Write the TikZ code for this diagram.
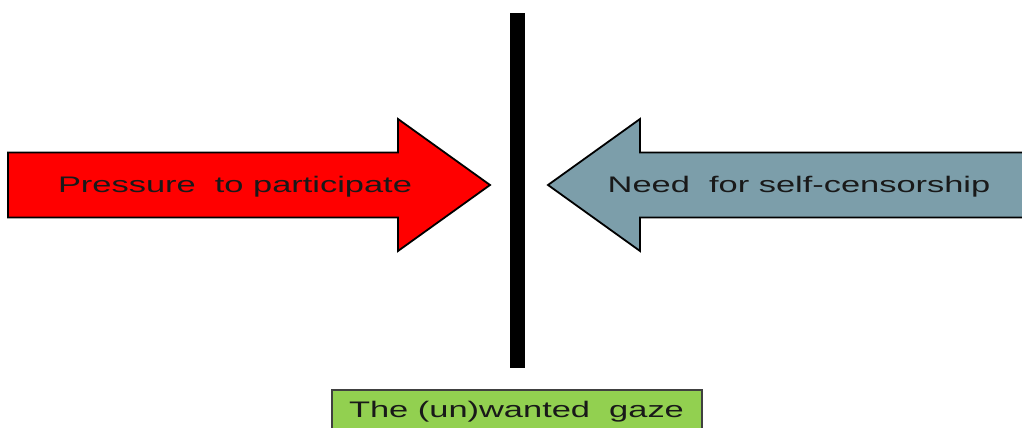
\documentclass[tikz,border=0pt]{standalone}
\usepackage{fontspec}
\newfontfamily\gazefont[FakeStretch=1.53]{Liberation Sans}
\usepackage{tikz}
\usetikzlibrary{positioning}
\definecolor{PushRed}  {RGB}{255,  0,  0}
\definecolor{CensorBlu}{RGB}{124,158,170}
\definecolor{GazeGrn}  {RGB}{146,208, 80}
\tikzset{
  lbl/.style={font=\gazefont\fontsize{22.5}{27}\selectfont,inner sep=0pt,anchor=base,text=black!90},
  shape edge/.style={draw=black,line width=1.8pt,line join=miter}
}

\begin{document}
\begin{tikzpicture}[x=1pt,y=1pt]
\useasboundingbox (0,0) rectangle (1022,428);
\clip (0,0) rectangle (1022,428);
% the wall
\fill[black] (510,60) rectangle (525,415);
% pushing in from the left
\draw[shape edge,fill=PushRed] (8,210.5) -- (398,210.5) -- (398,177) -- (490,243)
     -- (398,309) -- (398,275.5) -- (8,275.5) -- cycle;
% pushing back from the right
\draw[shape edge,fill=CensorBlu] (1040,210.5) -- (640,210.5) -- (640,177) -- (548,243)
     -- (640,309) -- (640,275.5) -- (1040,275.5) -- cycle;
% the box below
\draw[draw=black!75,line width=1.8pt,fill=GazeGrn] (332,-10) rectangle (702,38);
\node[lbl] (push) at (235,235) {Pressure\ \ to participate};
\node[lbl] (censor) at (799,235) {Need\ \ for self-censorship};
\node[lbl] (gaze) at (516.5,10) {The (un)wanted\ \ gaze};
\end{tikzpicture}
\end{document}
